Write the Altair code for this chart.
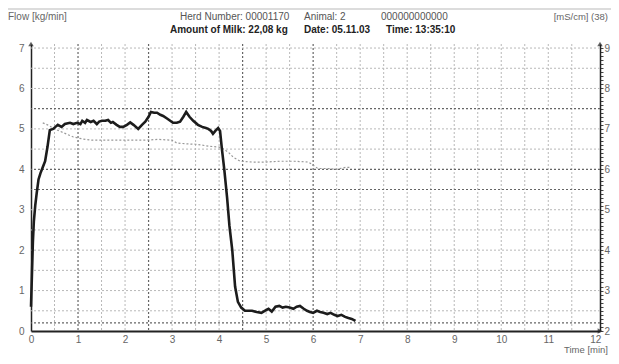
import altair as alt
import pandas as pd

FONT = "Liberation Sans"

# ---- data ----
flow_time = [0.0, 0.02, 0.04, 0.06, 0.09, 0.12, 0.16, 0.20, 0.25, 0.30, 0.35, 0.40, 0.47, 0.52,
             0.57, 0.65, 0.72, 0.83, 0.90, 0.98, 1.05, 1.09, 1.15, 1.19, 1.27, 1.33, 1.40, 1.45,
             1.51, 1.58, 1.64, 1.70, 1.74, 1.82, 1.89, 1.96, 2.04, 2.11, 2.18, 2.28, 2.36, 2.43,
             2.50, 2.55, 2.62, 2.68, 2.75, 2.81, 2.90, 3.02, 3.10, 3.17, 3.24, 3.30, 3.37, 3.45,
             3.55, 3.64, 3.72, 3.77, 3.83, 3.87, 3.92, 3.98, 4.02, 4.06, 4.11, 4.17, 4.22, 4.28,
             4.34, 4.40, 4.47, 4.55, 4.62, 4.70, 4.80, 4.90, 4.97, 5.05, 5.12, 5.20, 5.28, 5.35,
             5.42, 5.50, 5.58, 5.65, 5.72, 5.80, 5.87, 5.93, 6.00, 6.08, 6.15, 6.22, 6.30, 6.37,
             6.45, 6.52, 6.60, 6.68, 6.75, 6.82, 6.90]
flow_kg = [0.6, 1.4, 2.2, 2.7, 3.1, 3.4, 3.75, 3.9, 4.05, 4.2, 4.55, 4.97, 5.0, 5.05,
           5.1, 5.05, 5.12, 5.15, 5.12, 5.15, 5.12, 5.2, 5.15, 5.22, 5.17, 5.2, 5.12, 5.18,
           5.2, 5.2, 5.22, 5.15, 5.17, 5.1, 5.05, 5.05, 5.1, 5.16, 5.1, 5.0, 5.1, 5.18,
           5.3, 5.42, 5.4, 5.4, 5.35, 5.32, 5.25, 5.15, 5.15, 5.18, 5.3, 5.42, 5.3, 5.2,
           5.1, 5.05, 5.02, 5.0, 4.95, 4.88, 4.95, 5.02, 4.95, 4.5, 4.0, 3.3, 2.6, 2.0,
           1.1, 0.72, 0.58, 0.5, 0.5, 0.5, 0.47, 0.45, 0.5, 0.55, 0.48, 0.6, 0.62, 0.58,
           0.6, 0.58, 0.55, 0.6, 0.62, 0.55, 0.5, 0.47, 0.45, 0.5, 0.47, 0.45, 0.42, 0.45,
           0.4, 0.37, 0.4, 0.35, 0.32, 0.3, 0.25]

cond_time = [0.25, 0.35, 0.5, 0.7, 0.9, 1.1, 1.3, 1.5, 1.8, 2.1, 2.4, 2.7, 3.0, 3.1, 3.3,
             3.5, 3.8, 4.0, 4.1, 4.2, 4.3, 4.45, 4.7, 5.0, 5.3, 5.6, 5.9, 6.0, 6.1, 6.3,
             6.5, 6.7, 6.8]
cond_ms = [7.15, 7.1, 7.0, 6.9, 6.8, 6.75, 6.72, 6.72, 6.72, 6.72, 6.72, 6.74, 6.72, 6.65, 6.63,
           6.62, 6.57, 6.55, 6.5, 6.42, 6.3, 6.2, 6.18, 6.18, 6.2, 6.2, 6.18, 6.1, 6.02, 6.02,
           6.0, 6.05, 6.05]

x_ticks = list(range(0, 13))
left_ticks = list(range(0, 8))
right_ticks = [round(2 + 0.1 * i, 1) for i in range(71)]

grid_t_light = [0.5, 1.5, 2, 3, 3.5, 4, 5, 5.5, 6.5, 7, 7.5, 8, 8.5, 9, 9.5, 10, 10.5, 11, 11.5]
grid_t_dark = [1, 2.5, 4.5, 6]
grid_y_light = [0.5, 1, 1.5, 2, 2.5, 3, 4.5, 5, 6, 6.5, 7]
grid_y_dark = [0.2, 3.5, 4, 5.5]

header_left = "Flow [kg/min]"
header_right = "[mS/cm] (38)"
header_line1 = ["Herd Number: 00001170", "Animal: 2", "000000000000"]
header_line2 = ["Amount of Milk: 22,08 kg", "Date: 05.11.03", "Time: 13:35:10"]
x_title = "Time [min]"

X_DOMAIN = [0, 12.1]
YL_DOMAIN = [0, 7.1]
YR_DOMAIN = [2, 9.1]

xscale = alt.Scale(domain=X_DOMAIN, nice=False, zero=False)
ylscale = alt.Scale(domain=YL_DOMAIN, nice=False)
yrscale = alt.Scale(domain=YR_DOMAIN, nice=False, zero=False)

xaxis = alt.Axis(values=x_ticks, title=None, grid=False, ticks=False, format="d",
                 domainColor="#222", domainWidth=2, labelColor="#666", labelFontSize=10,
                 labelFont=FONT, labelPadding=3, labelFlush=False)

def xenc():
    return alt.X("t:Q", scale=xscale, axis=xaxis)

flow_df = pd.DataFrame({"t": flow_time, "v": flow_kg})
cond_df = pd.DataFrame({"t": cond_time, "v": cond_ms})

vlight = alt.Chart(pd.DataFrame({"t": grid_t_light})).mark_rule(
    color="#b8b8b8", strokeDash=[2, 2], strokeWidth=1).encode(x=xenc())
vdark = alt.Chart(pd.DataFrame({"t": grid_t_dark})).mark_rule(
    color="#666", strokeDash=[2, 2], strokeWidth=1.2).encode(x=xenc())
hlight = alt.Chart(pd.DataFrame({"v": grid_y_light})).mark_rule(
    color="#b8b8b8", strokeDash=[2, 2], strokeWidth=1).encode(
    y=alt.Y("v:Q", scale=ylscale, axis=None))
hdark = alt.Chart(pd.DataFrame({"v": grid_y_dark})).mark_rule(
    color="#666", strokeDash=[2, 2], strokeWidth=1.2).encode(
    y=alt.Y("v:Q", scale=ylscale, axis=None))

flow_line = alt.Chart(flow_df).mark_line(color="#1c1c1c", strokeWidth=2.6).encode(
    x=xenc(),
    y=alt.Y("v:Q", scale=ylscale,
            axis=alt.Axis(values=left_ticks, title=None, grid=False, ticks=False, format="d",
                          domainColor="#222", domainWidth=1.5, labelColor="#666",
                          labelFontSize=10, labelFont=FONT, labelPadding=7)))

cond_line = alt.Chart(cond_df).mark_line(color="#999", strokeWidth=1.2, strokeDash=[2, 2]).encode(
    x=xenc(),
    y=alt.Y("v:Q", scale=yrscale,
            axis=alt.Axis(orient="right", values=right_ticks, title=None, grid=False,
                          labelExpr="abs(datum.value - round(datum.value)) < 0.001 ? format(datum.value, 'd') : ''",
                          labelOverlap=False, tickSize=3, tickColor="#444", tickWidth=1,
                          domainColor="#222", domainWidth=1.5, labelColor="#666",
                          labelFontSize=10, labelFont=FONT, labelPadding=1)))

one = pd.DataFrame({"k": [0]})
arrow_top_left = alt.Chart(one).mark_point(shape="triangle-up", filled=True, color="#222", size=30).encode(
    x=alt.datum(X_DOMAIN[0], scale=xscale), y=alt.datum(YL_DOMAIN[1], scale=ylscale, axis=None))
arrow_top_right = alt.Chart(one).mark_point(shape="triangle-up", filled=True, color="#222", size=30).encode(
    x=alt.datum(X_DOMAIN[1], scale=xscale), y=alt.datum(YL_DOMAIN[1], scale=ylscale, axis=None))
arrow_right = alt.Chart(one).mark_point(shape="triangle-right", filled=True, color="#222", size=30).encode(
    x=alt.datum(X_DOMAIN[1], scale=xscale), y=alt.datum(YL_DOMAIN[0], scale=ylscale, axis=None))


def txt(s, x, y, size=10, weight="normal", color="#666", align="left"):
    return alt.Chart(pd.DataFrame({"s": [s]})).mark_text(
        align=align, baseline="middle", fontSize=size, fontWeight=weight, color=color,
        font=FONT).encode(x=alt.value(x), y=alt.value(y), text="s:N")

top_line = alt.Chart(one).mark_rule(color="#d0d0d0", strokeWidth=1.5).encode(
    x=alt.value(-23), x2=alt.value(580), y=alt.value(-35))

texts = [
    txt(header_left, -23, -27),
    txt(header_right, 577, -27, size=9.5, align="right"),
    txt(header_line1[0], 149, -27, color="#555"),
    txt(header_line1[1], 273, -27, color="#555"),
    txt(header_line1[2], 350, -27, color="#555"),
    txt(header_line2[0], 139, -14, weight="bold", color="#222"),
    txt(header_line2[1], 273, -14, weight="bold", color="#222"),
    txt(header_line2[2], 355, -14, weight="bold", color="#222"),
    txt(x_title, 577, 306, size=9.5, align="right"),
]

chart = alt.layer(
    vlight, vdark, hlight, hdark, cond_line, flow_line,
    arrow_top_left, arrow_top_right, arrow_right, top_line, *texts
).resolve_scale(y="independent").properties(
    width=569, height=287,
    padding={"left": 23, "top": 36, "right": 11, "bottom": 24},
    autosize=alt.AutoSizeParams(type="none"),
    background="white",
).configure_view(stroke=None)

chart.save("out.html", embed_options={"renderer": "svg", "actions": False})
